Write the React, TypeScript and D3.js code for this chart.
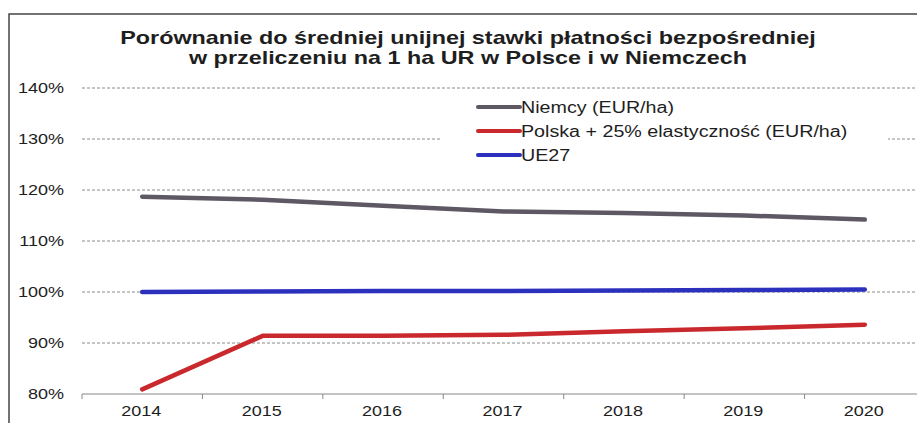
import React, { useEffect, useRef } from "react";
import * as d3 from "d3";

const years = ["2014", "2015", "2016", "2017", "2018", "2019", "2020"];
const niemcy = [118.7, 118.1, 116.9, 115.8, 115.5, 115.0, 114.2];
const polska = [80.9, 91.4, 91.4, 91.6, 92.3, 92.9, 93.6];
const ue27 = [100.0, 100.1, 100.2, 100.2, 100.3, 100.4, 100.5];
const yTicks = [80, 90, 100, 110, 120, 130, 140];

const series = [
  { name: "Niemcy (EUR/ha)", values: niemcy, color: "#5d5864" },
  { name: "Polska + 25% elastyczność (EUR/ha)", values: polska, color: "#c9282d" },
  { name: "UE27", values: ue27, color: "#2b31bd" },
];

export default function App() {
  const ref = useRef<SVGSVGElement>(null);

  useEffect(() => {
    const width = 917;
    const height = 423;
    const margin = { top: 88, right: -8, bottom: 29, left: 82 };
    const svg = d3.select(ref.current).attr("width", width).attr("height", height);
    svg.selectAll("*").remove();
    const font = "'Liberation Sans', Arial, sans-serif";

    // the scan is stretched sideways, so text gets a horizontal scale
    const label = (
      parent: d3.Selection<any, any, any, any>,
      x: number,
      y: number,
      txt: string,
      size: number,
      sx: number,
      anchor = "start",
      weight = "400"
    ) =>
      parent
        .append("text")
        .attr("transform", `translate(${x},${y}) scale(${sx},1)`)
        .attr("text-anchor", anchor)
        .attr("font-family", font)
        .attr("font-size", `${size}px`)
        .attr("font-weight", weight)
        .attr("fill", "#1e1e1e")
        .text(txt);

    svg.append("rect").attr("width", width).attr("height", height).attr("fill", "#fff");

    // frame
    svg.append("path")
      .attr("d", `M9,${height} V14 H${width}`)
      .attr("fill", "none")
      .attr("stroke", "#444")
      .attr("stroke-width", 1.5);

    const x = d3.scaleBand().domain(years).range([margin.left, width - margin.right]);
    const y = d3.scaleLinear().domain([80, 140]).range([height - margin.bottom, margin.top]);

    // grid
    svg.append("g")
      .selectAll("line")
      .data(yTicks.filter((d) => d > 80))
      .join("line")
      .attr("x1", margin.left)
      .attr("x2", width)
      .attr("y1", (d) => y(d))
      .attr("y2", (d) => y(d))
      .attr("stroke", "#8a8a8a")
      .attr("stroke-width", 1)
      .attr("stroke-dasharray", "3,2");

    // y labels
    const yl = svg.append("g");
    yTicks.forEach((d) => label(yl, 64, y(d) + 5, `${d}%`, 15, 1.2, "end"));

    // x axis
    svg.append("line")
      .attr("x1", margin.left)
      .attr("x2", width)
      .attr("y1", y(80))
      .attr("y2", y(80))
      .attr("stroke", "#888");
    svg.append("g")
      .selectAll("line")
      .data(years)
      .join("line")
      .attr("x1", (d) => x(d)!)
      .attr("x2", (d) => x(d)!)
      .attr("y1", y(80))
      .attr("y2", y(80) + 5)
      .attr("stroke", "#888");
    const xl = svg.append("g");
    years.forEach((d) => label(xl, x(d)! + x.bandwidth() / 2 - 1, y(80) + 22, d, 15, 1.2, "middle"));

    // legend background
    svg.append("rect")
      .attr("x", 440)
      .attr("y", 95)
      .attr("width", 448)
      .attr("height", 72)
      .attr("fill", "#fff");

    // lines
    const line = d3.line<number>()
      .x((_, i) => x(years[i])! + x.bandwidth() / 2)
      .y((d) => y(d));
    series.forEach((s) => {
      svg.append("path")
        .datum(s.values)
        .attr("d", line)
        .attr("fill", "none")
        .attr("stroke", s.color)
        .attr("stroke-width", 4.5)
        .attr("stroke-linejoin", "round")
        .attr("stroke-linecap", "round");
    });

    // legend
    const leg = svg.append("g").attr("transform", "translate(478,107)");
    series.forEach((s, i) => {
      const g = leg.append("g").attr("transform", `translate(0,${i * 24})`);
      g.append("line")
        .attr("x1", 0)
        .attr("x2", 42)
        .attr("stroke", s.color)
        .attr("stroke-width", 4)
        .attr("stroke-linecap", "round");
      label(g, 43, 6, s.name, 16, 1.23);
    });

    // title
    label(svg, 468, 44, "Porównanie do średniej unijnej stawki płatności bezpośredniej", 19, 1.23, "middle", "700");
    label(svg, 468, 64, "w przeliczeniu na 1 ha UR w Polsce i w Niemczech", 19, 1.23, "middle", "700");
  }, []);

  return <svg ref={ref} style={{ display: "block", position: "absolute", left: 0, top: 0 }} />;
}
